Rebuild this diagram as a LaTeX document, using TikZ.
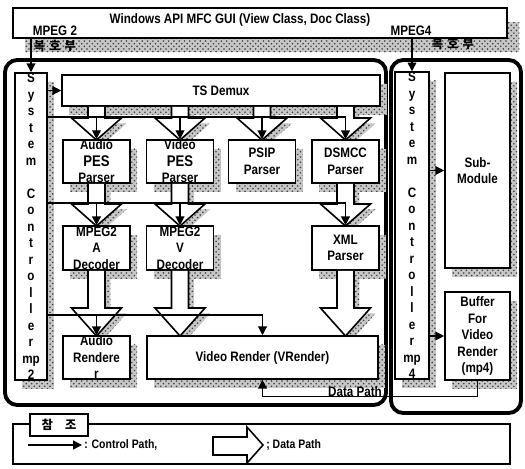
\documentclass[tikz,border=0pt]{standalone}
\usepackage{fontspec}
\setmainfont{Liberation Sans}[FakeStretch=0.85]
\newfontfamily\kor{Noto Sans CJK KR}
\usetikzlibrary{arrows.meta,calc,patterns}

% hollow data-path arrow: [head height]{source node}{tip point}
\newcommand{\datapath}[3][22]{%
  \coordinate (dtip) at (#3);
  \draw[datap] ($(dtip |- #2.south)+(-8.5,0)$) -- ($(dtip)+(-8.5,-#1)$) -- ($(dtip)+(-25,-#1)$) -- (dtip)
    -- ($(dtip)+(25,-#1)$) -- ($(dtip)+(8.5,-#1)$) -- ($(dtip |- #2.south)+(8.5,0)$);
}

\begin{document}
\begin{tikzpicture}[x=0.02cm,y=-0.02cm,
  every node/.style={font=\bfseries\fontsize{7.8}{9.4}\selectfont,inner sep=0pt},
  hatch/.style={preaction={draw=none,fill=black!22,transform canvas={shift={(#1)}}},
    preaction={draw=none,pattern=crosshatch dots,pattern color=black!75,transform canvas={shift={(#1)}}}},
  hatch/.default={4pt,-5pt},
  box/.style={draw,line width=0.9pt,fill=white,align=center},
  datap/.style={line width=0.9pt,fill=white,hatch={3pt,-3pt}},
  ctrl/.style={line width=0.7pt,-{Triangle[length=5pt,width=5pt]}},
  bus/.style={line width=0.7pt},
  region/.style={line width=2.2pt,rounded corners=7pt},
  kortext/.style={font=\kor\bfseries\fontsize{7}{7}\selectfont}]
  \useasboundingbox (0,0) rectangle (525,468);

  % decoder areas
  \draw[region] (5,60) rectangle (386,405);
  \draw[region] (391,60) rectangle (521,413);

  % GUI on top
  \node[box,hatch={7pt,-8pt},minimum width=9.88cm,minimum height=0.6cm] (gui) at (260,23) {};
  \node (guitxt) at (240,20) {Windows API MFC GUI (View Class, Doc Class)};
  \node (mp2txt) at (55,31) {MPEG 2};
  \node (mp4txt) at (411,31) {MPEG4};
  \node[kortext] (mp2kor) at (55,46) {복\,\,호\,\,부};
  \node[kortext] (mp4kor) at (453,44) {복\,\,호\,\,부};

  % data paths (drawn under the boxes)
  \node[box,hatch,minimum width=6.36cm,minimum height=0.62cm] (tsd) at (221,90.5) {TS Demux};
  \coordinate (apatop) at (96.5,140);
  \coordinate (vpatop) at (180,140);
  \coordinate (psiptop) at (262,140);
  \coordinate (dsmtop) at (345.5,140);
  \datapath{tsd}{apatop}
  \datapath{tsd}{vpatop}
  \datapath{tsd}{psiptop}
  \datapath{tsd}{dsmtop}

  \node[box,hatch,minimum width=1.34cm,minimum height=0.86cm] (apa) at (96.5,161.5) {Audio\\{\fontsize{8.8}{9.4}\selectfont PES}\\Parser};
  \node[box,hatch,minimum width=1.34cm,minimum height=0.86cm] (vpa) at (180,161.5) {Video\\{\fontsize{8.8}{9.4}\selectfont PES}\\Parser};
  \node[box,hatch,minimum width=1.34cm,minimum height=0.86cm] (psip) at (262,161.5) {PSIP\\Parser};
  \node[box,hatch,minimum width=1.34cm,minimum height=0.86cm] (dsm) at (345.5,161.5) {DSMCC\\Parser};

  \coordinate (adectop) at (96.5,226);
  \coordinate (vdectop) at (180,226);
  \coordinate (xmltop) at (345.5,226);
  \datapath{apa}{adectop}
  \datapath{vpa}{vdectop}
  \datapath{dsm}{xmltop}

  \node[box,hatch,minimum width=1.34cm,minimum height=0.88cm] (adec) at (96.5,248) {MPEG2\\A\\Decoder};
  \node[box,hatch,minimum width=1.34cm,minimum height=0.88cm] (vdec) at (180,248) {MPEG2\\V\\Decoder};
  \node[box,hatch,minimum width=1.34cm,minimum height=0.88cm] (xmlp) at (345.5,248) {XML\\Parser};

  \coordinate (arendtop) at (96.5,336);
  \coordinate (vrtopv) at (180,336);
  \coordinate (vrtopx) at (345.5,336);
  \datapath[28]{adec}{arendtop}
  \datapath[28]{vdec}{vrtopv}
  \datapath[28]{xmlp}{vrtopx}

  \node[box,hatch,minimum width=1.34cm,minimum height=0.86cm] (arend) at (96.5,357.5) {Audio\\Rendere\\r};
  \node[box,hatch,minimum width=4.62cm,minimum height=0.86cm] (vrender) at (262.5,357.5) {Video Render (VRender)};

  % system controllers and mp4 side
  \node[box,hatch,minimum width=0.64cm,minimum height=6.14cm] (sys2) at (31,226.5) {S\\y\\s\\t\\e\\m\\\mbox{}\\C\\o\\n\\t\\r\\o\\l\\l\\e\\r\\mp\\2};
  \node[box,hatch,minimum width=0.68cm,minimum height=6.1cm] (sys4) at (412,225.5) {S\\y\\s\\t\\e\\m\\\mbox{}\\C\\o\\n\\t\\r\\o\\l\\l\\e\\r\\mp\\4};
  \node[box,hatch,minimum width=1.3cm,minimum height=3.9cm] (sub) at (477.5,170.5) {Sub-\\Module};
  \node[box,hatch,minimum width=1.3cm,minimum height=1.76cm] (buf) at (477.5,336) {Buffer\\For\\Video\\Render\\(mp4)};

  % control paths
  \draw[ctrl] (sys2.north |- gui.south) -- (sys2.north);
  \draw[ctrl] (sys4.north |- gui.south) -- (sys4.north);
  \draw[ctrl] (sys2.east |- tsd.west) -- (tsd.west);
  \coordinate (bus1) at (0,117);
  \coordinate (bus2) at (0,203);
  \coordinate (bus3) at (0,315);
  \draw[bus] (sys2.east |- bus1) -- (dsm.north |- bus1);
  \draw[ctrl] (apa.north |- bus1) -- (apa.north);
  \draw[ctrl] (vpa.north |- bus1) -- (vpa.north);
  \draw[ctrl] (psip.north |- bus1) -- (psip.north);
  \draw[ctrl] (dsm.north |- bus1) -- (dsm.north);
  \draw[bus] (sys2.east |- bus2) -- (xmlp.north |- bus2);
  \draw[ctrl] (adec.north |- bus2) -- (adec.north);
  \draw[ctrl] (vdec.north |- bus2) -- (vdec.north);
  \draw[ctrl] (xmlp.north |- bus2) -- (xmlp.north);
  \draw[ctrl] (sys2.east |- bus3) -| (vrender.north);
  \draw[ctrl] (arend.north |- bus3) -- (arend.north);
  \draw[ctrl] (sys4.east |- sub.west) -- (sub.west);
  \draw[ctrl] (sys4.east |- buf.west) -- (buf.west);
  \draw[ctrl] (buf.south) -- ++(0,16) -| (vrender.south);
  \node (dplabel) at (355,392) {Data Path};

  % legend
  \node[draw,line width=0.9pt,minimum width=9.94cm,minimum height=0.8cm] (legend) at (261.5,444) {};
  \node[box,minimum width=1.16cm,minimum height=0.44cm,kortext] (refbox) at (59,425) {참\quad 조};
  \coordinate (lgstart) at (28,445);
  \coordinate (lgend) at (82,445);
  \draw[ctrl] (lgstart) -- (lgend);
  \node[anchor=west,font=\bfseries\fontsize{7}{8}\selectfont] (lgctrl) at (84,445) {: Control Path,};
  \draw[line width=0.9pt,fill=white] (213,437) -- (247,437) -- (247,427) -- (263,445) -- (247,463) -- (247,455) -- (213,455) -- cycle;
  \node[anchor=west,font=\bfseries\fontsize{7}{8}\selectfont] (lgdata) at (266,445) {; Data Path};
\end{tikzpicture}
\end{document}
